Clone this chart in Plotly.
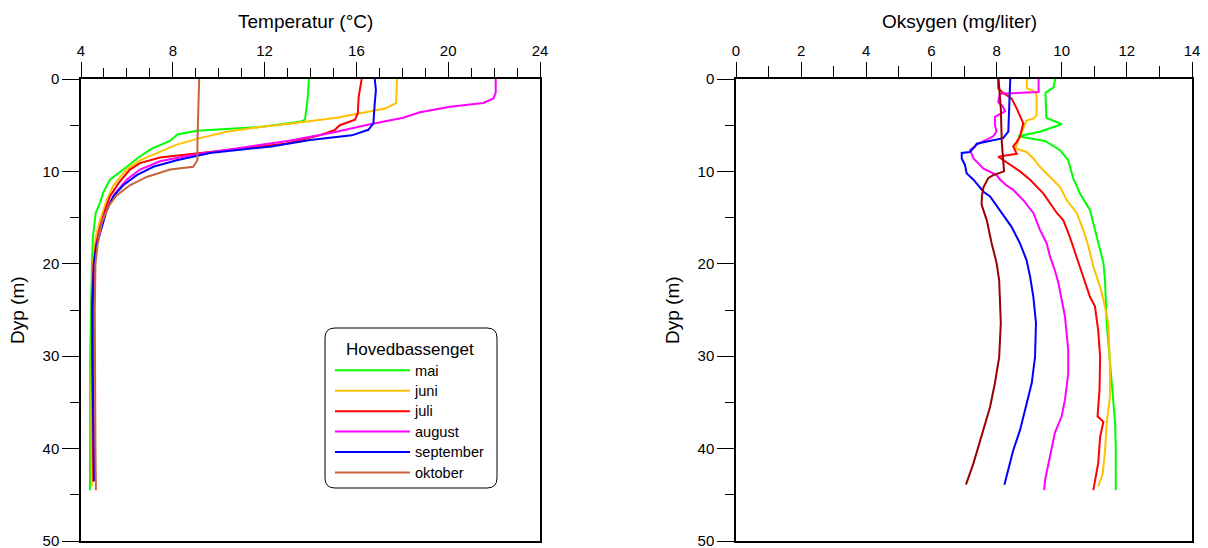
import plotly.graph_objects as go

W, H = 1208, 548

# ---------------- Temperature (left panel) ----------------
series_names = ["mai", "juni", "juli", "august", "september", "oktober"]

mai_t_depth = [0, 2.3, 4.4, 4.6, 5.2, 5.6, 6.0, 6.7, 7.5, 8.5, 9.5, 10.6, 10.9, 12.3, 13.4, 14.5, 16.3, 17.1, 19.6, 25, 30, 35, 40, 44.5]
mai_temp = [13.93, 13.87, 13.76, 13.6, 11.8, 9.04, 8.2, 7.88, 7.1, 6.5, 6.0, 5.4, 5.26, 4.97, 4.83, 4.64, 4.55, 4.52, 4.48, 4.43, 4.40, 4.40, 4.40, 4.39]

juni_t_depth = [0, 2.6, 3.2, 3.7, 4.2, 4.8, 5.2, 5.7, 6.4, 7.1, 7.9, 8.8, 9.8, 11.5, 13.1, 15.3, 17, 20, 25, 30, 35, 40, 44.1]
juni_temp = [17.77, 17.73, 17.25, 16.16, 15.14, 13.25, 11.8, 10.35, 9.18, 8.17, 7.44, 6.57, 5.99, 5.41, 5.12, 4.83, 4.65, 4.52, 4.48, 4.45, 4.45, 4.46, 4.47]

juli_t_depth = [0, 1.2, 1.9, 3.7, 4.4, 5.0, 5.5, 6.1, 7.0, 7.5, 8.1, 8.5, 9.1, 9.8, 11.3, 12.7, 14.2, 16.0, 18, 20, 24, 30, 35, 40, 43.6]
juli_temp = [16.23, 16.16, 16.1, 16.06, 15.94, 15.28, 15.06, 14.4, 12.9, 11.06, 8.9, 7.44, 6.57, 6.13, 5.63, 5.26, 5.05, 4.83, 4.65, 4.55, 4.47, 4.48, 4.5, 4.52, 4.54]

aug_t_depth = [0, 1.5, 2.1, 2.6, 3.0, 3.6, 4.2, 4.9, 5.8, 6.7, 7.4, 8.2, 8.9, 9.8, 10.9, 12.4, 13.8, 15.6, 18, 20, 25, 30, 35, 40, 43.5]
aug_temp = [22.07, 22.07, 21.97, 21.53, 20.08, 18.77, 18.04, 16.6, 14.98, 13.0, 11.07, 8.9, 7.44, 6.57, 5.99, 5.48, 5.19, 4.9, 4.68, 4.58, 4.53, 4.52, 4.54, 4.56, 4.58]

sep_t_depth = [0, 1.2, 2.6, 4.8, 5.5, 6.1, 6.6, 7.3, 8.0, 8.8, 9.5, 10.4, 11.5, 12.7, 14.2, 16.0, 18, 20, 25, 30, 35, 40, 43.5]
sep_temp = [16.8, 16.85, 16.8, 16.74, 16.52, 15.8, 13.98, 12.3, 9.62, 8.17, 7.15, 6.43, 5.84, 5.41, 5.12, 4.9, 4.68, 4.56, 4.5, 4.5, 4.52, 4.55, 4.57]

okt_t_depth = [0, 2.6, 6.2, 8.8, 9.5, 9.8, 10.6, 11.5, 12.6, 13.8, 15.6, 18, 20, 25, 30, 35, 40, 44.5]
okt_temp = [9.15, 9.11, 9.08, 9.07, 8.89, 7.88, 6.86, 6.13, 5.55, 5.19, 4.9, 4.72, 4.63, 4.6, 4.6, 4.62, 4.63, 4.65]

# ---------------- Oxygen (right panel) ----------------
mai_o_depth = [0, 0.9, 1.5, 4.2, 4.9, 5.7, 6.2, 6.7, 7.7, 8.8, 10.7, 12.4, 14.2, 17.1, 19.9, 21.8, 26.4, 32.6, 37.3, 40, 44.5]
mai_oxy = [9.8, 9.75, 9.5, 9.53, 10.0, 9.33, 8.66, 9.49, 9.95, 10.2, 10.35, 10.56, 10.87, 11.07, 11.28, 11.33, 11.38, 11.53, 11.64, 11.66, 11.66]

juni_o_depth = [0, 1.0, 1.3, 1.7, 3.9, 4.3, 4.5, 5.5, 6.5, 7.5, 7.9, 8.6, 9.5, 10.9, 11.7, 13.1, 14.5, 16.3, 18.1, 20.3, 22.5, 23.9, 26.4, 30.8, 34.4, 37.3, 40.2, 42.7, 44.1]
juni_oxy = [8.93, 8.93, 9.15, 9.23, 9.23, 9.13, 8.92, 8.8, 8.7, 8.57, 8.92, 9.13, 9.33, 9.74, 9.95, 10.15, 10.46, 10.66, 10.82, 10.97, 11.18, 11.28, 11.43, 11.48, 11.48, 11.38, 11.33, 11.26, 11.12]

juli_o_depth = [0, 1.0, 1.5, 2.1, 3.2, 4.3, 4.8, 5.5, 6.2, 6.8, 7.3, 8.1, 8.4, 8.9, 10.0, 10.9, 12.4, 14.5, 15.3, 17.1, 19.2, 21.4, 23.6, 24.6, 27.2, 30.1, 33.7, 36.5, 37.1, 38.7, 41.6, 43.4, 44.5]
juli_oxy = [8.05, 8.05, 8.2, 8.46, 8.62, 8.77, 8.82, 8.77, 8.72, 8.62, 8.51, 8.62, 8.05, 8.26, 8.72, 9.03, 9.44, 9.85, 10.05, 10.25, 10.46, 10.66, 10.87, 11.02, 11.12, 11.18, 11.16, 11.1, 11.28, 11.18, 11.12, 11.02, 10.97]

aug_o_depth = [0, 1.4, 1.6, 2.5, 3.0, 3.5, 4.1, 5.0, 5.7, 6.2, 7.1, 7.7, 8.6, 9.7, 10.4, 10.9, 11.5, 12.0, 13.1, 14.5, 16.3, 17.8, 19.2, 20.7, 22.1, 23.9, 25.7, 29.3, 31.9, 34.7, 36.5, 38.3, 40.9, 43.4, 44.5]
aug_oxy = [9.29, 9.29, 8.1, 8.05, 8.2, 8.26, 7.95, 7.95, 8.0, 7.9, 7.39, 7.19, 7.29, 7.6, 8.0, 8.11, 8.3, 8.51, 8.82, 9.13, 9.33, 9.54, 9.64, 9.79, 9.9, 10.0, 10.1, 10.2, 10.2, 10.1, 10.0, 9.79, 9.64, 9.49, 9.46]

sep_o_depth = [0, 3.2, 5.7, 6.4, 7.0, 7.3, 7.9, 8.0, 8.6, 9.3, 10.2, 10.9, 12.2, 12.7, 14.2, 16.0, 17.8, 19.6, 21.4, 23.6, 26.4, 30.1, 32.9, 35.1, 38.0, 40.2, 42.3, 43.9]
sep_oxy = [8.42, 8.39, 8.36, 8.2, 7.39, 7.34, 7.18, 6.93, 6.93, 7.03, 7.08, 7.29, 7.6, 7.8, 8.1, 8.46, 8.72, 8.92, 9.03, 9.13, 9.21, 9.18, 9.08, 8.92, 8.72, 8.51, 8.36, 8.24]

okt_o_depth = [0, 3.2, 6.8, 8.2, 10.0, 10.4, 10.7, 11.7, 12.7, 13.6, 15.3, 17.8, 19.9, 21.8, 23.9, 26.4, 30.1, 32.9, 35.5, 39.1, 41.6, 43.9]
okt_oxy = [8.06, 8.13, 8.16, 8.19, 8.23, 7.9, 7.75, 7.6, 7.55, 7.54, 7.7, 7.85, 8.0, 8.08, 8.11, 8.13, 8.08, 7.95, 7.8, 7.49, 7.29, 7.06]

temp_data = [(mai_temp, mai_t_depth), (juni_temp, juni_t_depth), (juli_temp, juli_t_depth),
             (aug_temp, aug_t_depth), (sep_temp, sep_t_depth), (okt_temp, okt_t_depth)]
oxy_data = [(mai_oxy, mai_o_depth), (juni_oxy, juni_o_depth), (juli_oxy, juli_o_depth),
            (aug_oxy, aug_o_depth), (sep_oxy, sep_o_depth), (okt_oxy, okt_o_depth)]

temp_colors = ["#00FF00", "#FFC000", "#FF0000", "#FF00FF", "#0000FF", "#C8643C"]
oxy_colors = ["#00FF00", "#FFC000", "#FF0000", "#FF00FF", "#0000FF", "#990000"]

FONT = "Liberation Sans, Arial, sans-serif"

fig = go.Figure()
for name, (x, y), c in zip(series_names, temp_data, temp_colors):
    # legend rows are tighter than plotly's default line height: text drawn a bit larger
    label = f'<span style="font-size:14.6px">{name}</span>'
    fig.add_trace(go.Scatter(x=x, y=y, mode="lines", name=label, line=dict(color=c, width=2),
                             xaxis="x", yaxis="y", showlegend=True, hovertemplate=name + ": %{x}<extra></extra>"))
for name, (x, y), c in zip(series_names, oxy_data, oxy_colors):
    fig.add_trace(go.Scatter(x=x, y=y, mode="lines", name=name, line=dict(color=c, width=2),
                             xaxis="x2", yaxis="y2", showlegend=False))


def px_x(p):
    return p / W


def px_y(p):
    return 1 - p / H


xd1 = [px_x(81), px_x(540)]
xd2 = [px_x(736), px_x(1192)]
yd = [px_y(541), px_y(79)]

common_x = dict(side="top", showgrid=False, zeroline=False, showline=True, linecolor="black",
                linewidth=1.5, mirror=True, ticks="outside", ticklen=15, tickwidth=1,
                tickcolor="black", tickfont=dict(family=FONT, size=15, color="black"),
                automargin=False, ticklabeloverflow="allow")
common_y = dict(range=[50, 0], dtick=10, tick0=0, showgrid=False, zeroline=False, showline=True,
                linecolor="black", linewidth=1.5, mirror=True, ticks="outside", ticklen=17,
                tickwidth=1, tickcolor="black", tickfont=dict(family=FONT, size=15, color="black"),
                minor=dict(dtick=5, ticklen=9, ticks="outside", tickcolor="black", tickwidth=1, showgrid=False),
                automargin=False, domain=yd, ticklabeloverflow="allow")

fig.update_layout(
    width=W, height=H,
    margin=dict(l=0, r=0, t=0, b=0),
    paper_bgcolor="white", plot_bgcolor="white",
    font=dict(family=FONT, size=15, color="black"),
    xaxis=dict(common_x, range=[4, 24], dtick=4, tick0=4, domain=xd1, anchor="y",
               minor=dict(dtick=1, ticklen=9, ticks="outside", tickcolor="black", tickwidth=1, showgrid=False)),
    yaxis=dict(common_y, anchor="x"),
    xaxis2=dict(common_x, range=[0, 14], dtick=2, tick0=0, domain=xd2, anchor="y2",
                minor=dict(dtick=1, ticklen=11, ticks="outside", tickcolor="black", tickwidth=1, showgrid=False)),
    yaxis2=dict(common_y, anchor="x2"),
    legend=dict(x=px_x(330), y=px_y(333), xanchor="left", yanchor="top",
                bgcolor="rgba(0,0,0,0)", borderwidth=0,
                title=dict(text="Hovedbassenget", side="top center", font=dict(family=FONT, size=17)),
                font=dict(family=FONT, size=13.4), itemwidth=75, tracegroupgap=0),
    showlegend=True,
)

annotations = [
    dict(text="Temperatur (°C)", x=px_x(305), y=px_y(21.5), xref="paper", yref="paper",
         showarrow=False, font=dict(family=FONT, size=19), xanchor="center", yanchor="middle"),
    dict(text="Oksygen (mg/liter)", x=px_x(959), y=px_y(21.5), xref="paper", yref="paper",
         showarrow=False, font=dict(family=FONT, size=19), xanchor="center", yanchor="middle"),
    dict(text="Dyp (m)", x=px_x(17), y=px_y(310), xref="paper", yref="paper", textangle=-90,
         showarrow=False, font=dict(family=FONT, size=19), xanchor="center", yanchor="middle"),
    dict(text="Dyp (m)", x=px_x(672), y=px_y(310), xref="paper", yref="paper", textangle=-90,
         showarrow=False, font=dict(family=FONT, size=19), xanchor="center", yanchor="middle"),
]
fig.update_layout(annotations=annotations)

# rounded legend frame
x0, x1 = px_x(325), px_x(497)
y0, y1 = px_y(488), px_y(328)
rx, ry = 10 / W, 10 / H
path = (f"M {x0+rx},{y1} L {x1-rx},{y1} Q {x1},{y1} {x1},{y1-ry} L {x1},{y0+ry} "
        f"Q {x1},{y0} {x1-rx},{y0} L {x0+rx},{y0} Q {x0},{y0} {x0},{y0+ry} "
        f"L {x0},{y1-ry} Q {x0},{y1} {x0+rx},{y1} Z")
fig.add_shape(type="path", path=path, xref="paper", yref="paper",
              line=dict(color="black", width=1), fillcolor="white", layer="above")

fig.write_html("out.html", config={"displayModeBar": False})

# remove the default page margin so the figure sits at the window origin
with open("out.html", "r", encoding="utf-8") as f:
    html = f.read()
html = html.replace("<head>", "<head><style>html,body{margin:0;padding:0;overflow:hidden;}</style>", 1)
with open("out.html", "w", encoding="utf-8") as f:
    f.write(html)
